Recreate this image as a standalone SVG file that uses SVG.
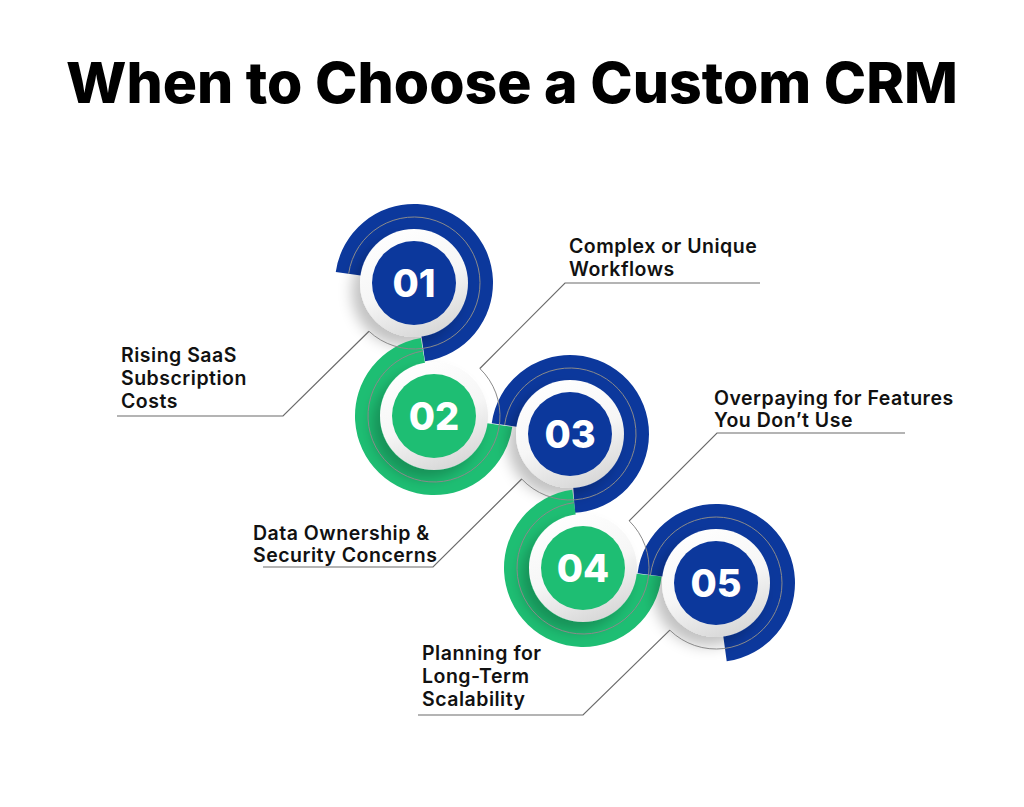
<svg xmlns="http://www.w3.org/2000/svg" width="1024" height="807" viewBox="0 0 1024 807">
<style>
.title{font-family:Inter,"Liberation Sans",sans-serif;font-weight:800;font-size:57px;fill:#000}
.lbl{font-family:Inter,"Liberation Sans",sans-serif;font-weight:600;font-size:19.5px;letter-spacing:0.5px;fill:#111}
.num{font-family:Inter,"Liberation Sans",sans-serif;font-weight:800;font-size:38px;fill:#fff;text-anchor:middle}
.blue{fill:#0c389c}
.green{fill:#1ebe73}
.lead{fill:none;stroke:#6b6b6b;stroke-width:1.2}
.guide{fill:none;stroke:#8a8a8a;stroke-width:1}
.disc{fill:url(#wg);filter:url(#sh)}
</style>
<defs>
<linearGradient id="wg" x1="0.2" y1="0" x2="0.6" y2="1">
<stop offset="0" stop-color="#ffffff"/>
<stop offset="0.55" stop-color="#f6f6f6"/>
<stop offset="1" stop-color="#d8d8d8"/>
</linearGradient>
<filter id="sh" x="-50%" y="-50%" width="200%" height="200%">
<feDropShadow dx="-8" dy="9" stdDeviation="7" flood-color="#000" flood-opacity="0.24"/>
</filter>
</defs>
<rect width="1024" height="807" fill="#fff"/>
<text class="title" x="66" y="103" textLength="892" lengthAdjust="spacingAndGlyphs">When to Choose a Custom CRM</text>

<g id="node01">
<path class="blue" d="M335.77,272 A79,79 0 1 1 425,361.23 L421.24,334.5 A52,52 0 1 0 362.5,275.76 Z"/>
<circle class="disc" cx="414" cy="283" r="54"/>
<circle class="blue" cx="414" cy="283" r="42"/>
<text class="num" x="414" y="297">01</text>
</g>
<g id="node02">
<path class="green" d="M512.27,426.72 A79,79 0 1 1 420.82,338.11 L425.33,364.73 A52,52 0 1 0 485.52,423.06 Z"/>
<circle class="disc" cx="434" cy="416" r="54"/>
<circle class="green" cx="434" cy="416" r="42"/>
<text class="num" x="434" y="430">02</text>
</g>
<g id="node03">
<path class="blue" d="M491.73,423.28 A79,79 0 1 1 574.82,512.85 L573.17,485.9 A52,52 0 1 0 518.48,426.94 Z"/>
<circle class="disc" cx="570" cy="434" r="54"/>
<circle class="blue" cx="570" cy="434" r="42"/>
<text class="num" x="570" y="448">03</text>
</g>
<g id="node04">
<path class="green" d="M661.55,576.4 A79,79 0 1 1 572.28,489.73 L575.94,516.48 A52,52 0 1 0 634.7,573.53 Z"/>
<circle class="disc" cx="583" cy="568" r="54"/>
<circle class="green" cx="583" cy="568" r="42"/>
<text class="num" x="583" y="582">04</text>
</g>
<g id="node05">
<path class="blue" d="M637.59,573.37 A79,79 0 1 1 726.72,661.27 L723.06,634.52 A52,52 0 1 0 664.39,576.66 Z"/>
<circle class="disc" cx="716" cy="583" r="54"/>
<circle class="blue" cx="716" cy="583" r="42"/>
<text class="num" x="716" y="597">05</text>
</g>

<g id="connectors">
<path class="guide" d="M348.64,273.81 A66,66 0 1 1 368.99,331.27"/>
<path class="guide" d="M479.85,368.53 A66,66 0 1 1 422.99,350.92"/>
<path class="guide" d="M504.61,425.04 A66,66 0 1 1 521.73,479.01"/>
<path class="guide" d="M629.18,520.84 A66,66 0 1 1 574.04,502.61"/>
<path class="guide" d="M650.49,574.96 A66,66 0 1 1 669.82,630.16"/>
<polyline class="lead" points="117,416 283,416 368.99,331.27"/>
<polyline class="lead" points="760,283 565,283 479.85,368.53"/>
<polyline class="lead" points="263,567 433,567 521.73,479.01"/>
<polyline class="lead" points="905,433 717,433 629.18,520.84"/>
<polyline class="lead" points="418,715 583,715 669.82,630.16"/>
</g>

<g id="labels">
<text class="lbl" x="121" y="362">Rising SaaS</text>
<text class="lbl" x="121" y="385">Subscription</text>
<text class="lbl" x="121" y="408">Costs</text>
<text class="lbl" x="569" y="253">Complex or Unique</text>
<text class="lbl" x="569" y="276">Workflows</text>
<text class="lbl" x="253" y="540">Data Ownership &amp;</text>
<text class="lbl" x="253" y="562">Security Concerns</text>
<text class="lbl" x="714" y="405">Overpaying for Features</text>
<text class="lbl" x="714" y="427">You Don’t Use</text>
<text class="lbl" x="422" y="660">Planning for</text>
<text class="lbl" x="422" y="683">Long-Term</text>
<text class="lbl" x="422" y="706">Scalability</text>
</g>
</svg>
